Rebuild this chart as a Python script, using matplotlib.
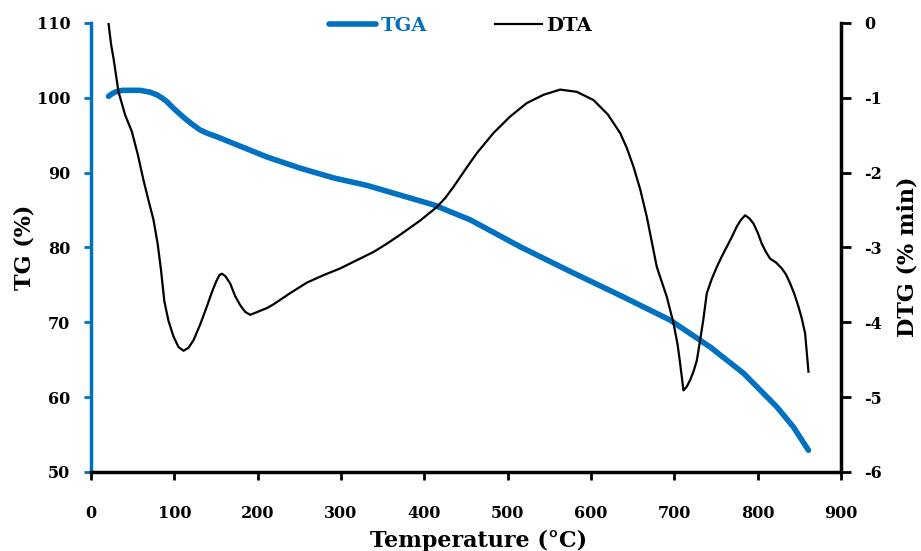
import matplotlib.pyplot as plt

plt.rcParams['font.family'] = 'DejaVu Serif'
plt.rcParams['font.weight'] = 'bold'
plt.rcParams['axes.unicode_minus'] = False

# TGA: remaining mass (%) vs temperature
tga_temp = [21, 26, 31, 38, 45, 59, 71, 79, 85, 91, 99, 105, 111, 121, 131, 141, 151, 171,
            211, 251, 291, 331, 371, 411, 455, 515, 575, 635, 695, 743, 783, 823, 843, 861]
tga_mass = [100.2, 100.6, 100.85, 101.0, 101.0, 101.0, 100.75, 100.4, 100.0, 99.5, 98.6,
            98.0, 97.4, 96.5, 95.7, 95.2, 94.8, 93.9, 92.1, 90.6, 89.3, 88.3, 87.0, 85.7,
            83.7, 80.1, 76.8, 73.6, 70.3, 66.7, 63.2, 58.7, 56.0, 52.9]

# DTA signal (right axis)
dta_temp = [21, 24, 27, 33, 41, 49, 56, 63, 69, 75, 80, 84, 88, 93, 99, 105, 111, 117, 123,
            131, 139, 145, 150, 154, 157, 161, 167, 173, 179, 185, 191, 200, 211, 219, 239,
            259, 279, 299, 319, 339, 355, 371, 395, 415, 425, 435, 451, 463, 483, 503, 523,
            543, 563, 583, 603, 620, 635, 643, 651, 659, 667, 679, 691, 699, 704, 707, 711,
            715, 719, 723, 727, 731, 735, 739, 745, 751, 757, 763, 769, 775, 780, 785, 790,
            795, 800, 805, 810, 815, 822, 829, 834, 839, 844, 849, 853, 857, 861]
dta_value = [0.0, -0.28, -0.47, -0.92, -1.23, -1.45, -1.75, -2.10, -2.37, -2.63, -2.95,
             -3.3, -3.72, -3.98, -4.19, -4.33, -4.38, -4.34, -4.24, -4.03, -3.79, -3.6,
             -3.46, -3.37, -3.35, -3.38, -3.48, -3.65, -3.77, -3.86, -3.90, -3.86, -3.81,
             -3.76, -3.61, -3.47, -3.37, -3.28, -3.17, -3.06, -2.95, -2.83, -2.64, -2.46,
             -2.34, -2.19, -1.93, -1.74, -1.47, -1.25, -1.07, -0.96, -0.89, -0.92, -1.03,
             -1.22, -1.47, -1.67, -1.92, -2.22, -2.59, -3.26, -3.66, -4.01, -4.3, -4.55,
             -4.91, -4.86, -4.77, -4.66, -4.51, -4.24, -3.95, -3.61, -3.42, -3.26, -3.12,
             -2.99, -2.86, -2.72, -2.63, -2.57, -2.61, -2.68, -2.8, -2.95, -3.06, -3.15,
             -3.2, -3.28, -3.36, -3.48, -3.62, -3.79, -3.95, -4.15, -4.66]

x_ticks = [0, 100, 200, 300, 400, 500, 600, 700, 800, 900]
tg_ticks = [50, 60, 70, 80, 90, 100, 110]
dtg_ticks = [0, -1, -2, -3, -4, -5, -6]

blue = '#0070C0'

fig = plt.figure(figsize=(9.21, 5.51), dpi=100)
ax = fig.add_axes([0.0988, 0.1434, 0.8143, 0.8149])
ax2 = ax.twinx()

l1, = ax.plot(tga_temp, tga_mass, color=blue, linewidth=4, solid_capstyle='round',
              solid_joinstyle='round', label='TGA')
l2, = ax2.plot(dta_temp, dta_value, color='black', linewidth=1.6, solid_joinstyle='round',
               label='DTA')

ax.set_xlim(0, 900)
ax.set_ylim(50, 110)
ax2.set_ylim(-6, 0)
ax.set_xticks(x_ticks)
ax.set_yticks(tg_ticks)
ax2.set_yticks(dtg_ticks)

# spines
ax.spines['top'].set_visible(False)
ax.spines['right'].set_visible(False)
ax.spines['left'].set_color(blue)
ax.spines['left'].set_linewidth(2.5)
ax.spines['bottom'].set_linewidth(2.5)
for s in ['top', 'left', 'bottom']:
    ax2.spines[s].set_visible(False)
ax2.spines['right'].set_linewidth(2.5)

ax.tick_params(axis='x', direction='out', length=6, width=2, pad=18, labelsize=11.5)
ax.tick_params(axis='y', direction='out', length=5, width=2, color=blue, pad=10, labelsize=11.5)
ax2.tick_params(axis='y', direction='out', length=7, width=2, pad=10, labelsize=11.5)

ax.set_xlabel('Temperature (°C)', fontsize=16, fontweight='bold')
ax.xaxis.set_label_coords(0.517, -0.13)
ax.set_ylabel('TG (%)', fontsize=16, fontweight='bold', va='center')
ax.yaxis.set_label_coords(-0.088, 0.5)
ax2.set_ylabel('DTG (% min)', fontsize=16, fontweight='bold', rotation=90, va='center')
ax2.yaxis.set_label_coords(1.089, 0.479)

fig.legend([l1, l2], ['TGA', 'DTA'], loc='center', bbox_to_anchor=(0.5, 0.953), ncol=2,
           frameon=False, fontsize=14, handlelength=2.4, handletextpad=0.25,
           columnspacing=3.5, labelcolor='linecolor')

plt.savefig('out.png', dpi=100)
